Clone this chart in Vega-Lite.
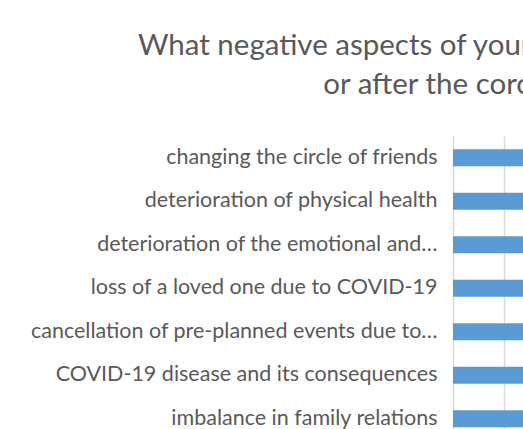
{
  "$schema": "https://vega.github.io/schema/vega-lite/v6.json",
  "width": 612,
  "height": 304.5,
  "padding": {"left": 30, "top": 30, "right": 5, "bottom": 5},
  "background": "white",
  "title": {
    "text": ["What negative aspects of your life have you experienced during", "or after the coronavirus pandemic?"],
    "font": "Lato",
    "fontSize": 29.5,
    "fontWeight": "normal",
    "color": "#595959",
    "anchor": "middle",
    "frame": "bounds",
    "offset": 36,
    "lineHeight": 39
  },
  "data": {
    "values": [
      {"aspect": "changing the circle of friends", "count": 14},
      {"aspect": "deterioration of physical health", "count": 18},
      {"aspect": "deterioration of the emotional and…", "count": 35},
      {"aspect": "loss of a loved one due to COVID-19", "count": 20},
      {"aspect": "cancellation of pre-planned events due to…", "count": 30},
      {"aspect": "COVID-19 disease and its consequences", "count": 25},
      {"aspect": "imbalance in family relations", "count": 12}
    ]
  },
  "mark": {"type": "bar", "color": "#5b9bd5"},
  "encoding": {
    "y": {
      "field": "aspect",
      "type": "nominal",
      "sort": null,
      "title": null,
      "scale": {"paddingInner": 0.61, "paddingOuter": 0.305},
      "axis": {
        "labelFont": "Lato",
        "labelFontSize": 21.5,
        "labelColor": "#595959",
        "labelPadding": 16,
        "labelLimit": 600,
        "ticks": false,
        "domain": false,
        "grid": false
      }
    },
    "x": {
      "field": "count",
      "type": "quantitative",
      "scale": {"domain": [0, 60]},
      "axis": {
        "values": [0, 5, 10, 15, 20, 25, 30, 35, 40, 45, 50, 55, 60],
        "title": null,
        "grid": true,
        "gridColor": "#d9d9d9",
        "gridWidth": 1.5,
        "domain": false,
        "ticks": false,
        "labelFont": "Lato",
        "labelFontSize": 16,
        "labelColor": "#595959"
      }
    }
  },
  "config": {"view": {"stroke": null}}
}
